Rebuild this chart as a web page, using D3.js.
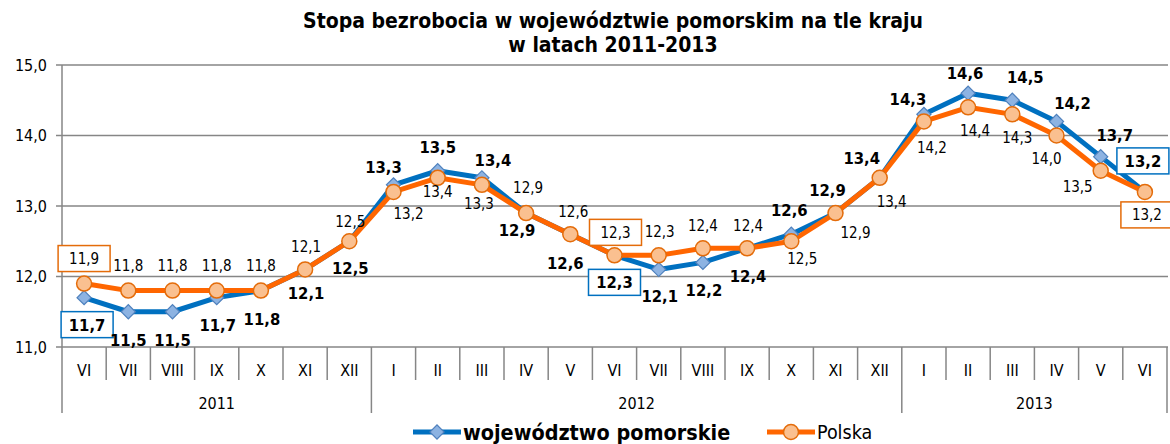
<!DOCTYPE html>
<html>
<head>
<meta charset="utf-8">
<script src="https://cdn.jsdelivr.net/npm/d3@7"></script>
<style>
  body { margin: 0; background: #fff; }
  svg { display: block; }
  text { font-family: 'DejaVu Sans Condensed', 'DejaVu Sans', sans-serif; fill: #000; }
  .grid { stroke: #868686; stroke-width: 1.5; }
</style>
</head>
<body>
<div id="chart"></div>
<script>
// data
const months = ["VI","VII","VIII","IX","X","XI","XII","I","II","III","IV","V","VI","VII","VIII","IX","X","XI","XII","I","II","III","IV","V","VI"];
const years = ["2011","2011","2011","2011","2011","2011","2011",
  "2012","2012","2012","2012","2012","2012","2012","2012","2012","2012","2012","2012",
  "2013","2013","2013","2013","2013","2013"];
const pomorskie = [11.7,11.5,11.5,11.7,11.8,12.1,12.5,13.3,13.5,13.4,12.9,12.6,12.3,12.1,12.2,12.4,12.6,12.9,13.4,14.3,14.6,14.5,14.2,13.7,13.2];
const polska = [11.9,11.8,11.8,11.8,11.8,12.1,12.5,13.2,13.4,13.3,12.9,12.6,12.3,12.3,12.4,12.4,12.5,12.9,13.4,14.2,14.4,14.3,14.0,13.5,13.2];
const yTicks = [11,12,13,14,15];

// label offsets (dx, dy of label centre from the point), like excel placed them
const pomOff = [[3,27],[0,28],[0,28],[1,27],[1,28],[1,24],[1,27],[-10,-18],[0,-24],[11,-18],[-9,17],[-5,29],[0,27],[1,27],[1,28],[1,28],[-2,-24],[-8,-23],[-18,-20],[-16,-15],[-3,-20],[13,-23],[16,-18],[14,-22],[-2,-31]];
const polOff = [[0,-25],[0,-25],[0,-25],[0,-25],[0,-25],[1,-23],[1,-20],[15,22],[0,14],[-3,19],[2,-25],[3,-23],[1,-23],[1,-24],[0,-23],[1,-23],[11,17],[20,20],[12,24],[8,26],[7,23],[5,23],[-10,23],[-23,16],[2,23]];
const boxedPom = [0,12,24];
const boxedPol = [0,12,24];

const W = 1170, H = 444;
const mLeft = 62, mRight = 1167, mTop = 65, mBottom = 347;

const svg = d3.select("#chart").append("svg").attr("width", W).attr("height", H);

const x = d3.scaleBand().domain(d3.range(months.length)).range([mLeft, mRight]).padding(0);
const cx = i => x(i) + x.bandwidth() / 2;
const y = d3.scaleLinear().domain([11, 15]).range([mBottom, mTop]);

// title
svg.append("text").attr("x", 613).attr("y", 28).attr("text-anchor", "middle")
  .style("font-size", "21px").style("font-weight", "bold")
  .text("Stopa bezrobocia w województwie pomorskim na tle kraju");
svg.append("text").attr("x", 613).attr("y", 52).attr("text-anchor", "middle")
  .style("font-size", "21px").style("font-weight", "bold")
  .text("w latach 2011-2013");

// gridlines
svg.selectAll(".hgrid").data(yTicks).enter().append("line")
  .attr("class", "grid hgrid")
  .attr("x1", mLeft - 6).attr("x2", mRight + 1)
  .attr("y1", d => y(d)).attr("y2", d => y(d));
svg.selectAll(".ylab").data(yTicks).enter().append("text")
  .attr("class", "ylab")
  .attr("x", 47).attr("y", d => y(d)).attr("dy", "0.35em").attr("text-anchor", "end")
  .style("font-size", "16px")
  .text(d => d3.format(".1f")(d).replace(".", ","));

// axis line
svg.append("line").attr("class", "grid").attr("x1", mLeft).attr("x2", mLeft).attr("y1", mTop).attr("y2", 413);

// month separators
svg.selectAll(".msep").data(d3.range(1, months.length + 1)).enter().append("line")
  .attr("class", "grid msep")
  .attr("x1", d => x(d - 1) + x.bandwidth()).attr("x2", d => x(d - 1) + x.bandwidth())
  .attr("y1", mBottom).attr("y2", d => (d === months.length || years[d] !== years[d - 1]) ? 413 : 380);
svg.selectAll(".mlab").data(months).enter().append("text")
  .attr("class", "mlab")
  .attr("x", (d, i) => cx(i)).attr("y", 370).attr("dy", "0.35em").attr("text-anchor", "middle")
  .style("font-size", "16px").text(d => d);

// year labels
const yearGroups = d3.groups(years.map((yr, i) => ({ yr, i })), d => d.yr);
svg.selectAll(".yrlab").data(yearGroups).enter().append("text")
  .attr("class", "yrlab")
  .attr("x", d => (x(d[1][0].i) + x(d[1][d[1].length - 1].i) + x.bandwidth()) / 2)
  .attr("y", 403).attr("dy", "0.35em").attr("text-anchor", "middle")
  .style("font-size", "16px").text(d => d[0]);

// lines
const line = d3.line().x((d, i) => cx(i)).y(d => y(d));
svg.append("path").datum(pomorskie).attr("d", line)
  .attr("fill", "none").attr("stroke", "#0070C0").attr("stroke-width", 5).attr("stroke-linejoin", "round");
svg.append("path").datum(polska).attr("d", line)
  .attr("fill", "none").attr("stroke", "#FF6600").attr("stroke-width", 5).attr("stroke-linejoin", "round");

const diamond = d3.symbol().type(d3.symbolSquare).size(100);
function drawDiamond(g, px, py) {
  g.append("path").attr("d", diamond())
    .attr("transform", `translate(${px},${py}) rotate(45)`)
    .attr("fill", "#8DB3E2").attr("stroke", "#4F81BD").attr("stroke-width", 1.2);
}
function drawCircle(g, px, py) {
  g.append("circle").attr("cx", px).attr("cy", py).attr("r", 7.5)
    .attr("fill", "#FAC090").attr("stroke", "#E46C0A").attr("stroke-width", 1.5);
}
pomorskie.forEach((v, i) => drawDiamond(svg, cx(i), y(v)));
polska.forEach((v, i) => drawCircle(svg, cx(i), y(v)));

// data labels
const fmt = v => d3.format(".1f")(v).replace(".", ",");
function labels(vals, offs, boxed, bold, boxColor) {
  vals.forEach((v, i) => {
    const lx = cx(i) + offs[i][0], ly = y(v) + offs[i][1];
    if (boxed.includes(i)) {
      svg.append("rect").attr("x", lx - 26).attr("y", ly - 13).attr("width", 52).attr("height", 26)
        .attr("fill", "#fff").attr("stroke", boxColor).attr("stroke-width", 1.5);
    }
    svg.append("text").attr("x", lx).attr("y", ly).attr("dy", "0.36em").attr("text-anchor", "middle")
      .style("font-size", bold ? "16.5px" : "15px").style("font-weight", bold ? "bold" : "normal")
      .text(fmt(v));
  });
}
labels(pomorskie, pomOff, boxedPom, true, "#0070C0");
labels(polska, polOff, boxedPol, false, "#E46C0A");

// legend
const lg = svg.append("g");
lg.append("line").attr("x1", 413).attr("x2", 461).attr("y1", 432).attr("y2", 432)
  .attr("stroke", "#0070C0").attr("stroke-width", 5);
drawDiamond(lg, 437, 432);
lg.append("text").attr("x", 463).attr("y", 432).attr("dy", "0.36em")
  .style("font-size", "21.4px").style("font-weight", "bold").text("województwo pomorskie");
lg.append("line").attr("x1", 767).attr("x2", 815).attr("y1", 432).attr("y2", 432)
  .attr("stroke", "#FF6600").attr("stroke-width", 5);
drawCircle(lg, 791, 432);
lg.append("text").attr("x", 817).attr("y", 432).attr("dy", "0.36em")
  .style("font-size", "19.5px").text("Polska");
</script>
</body>
</html>
